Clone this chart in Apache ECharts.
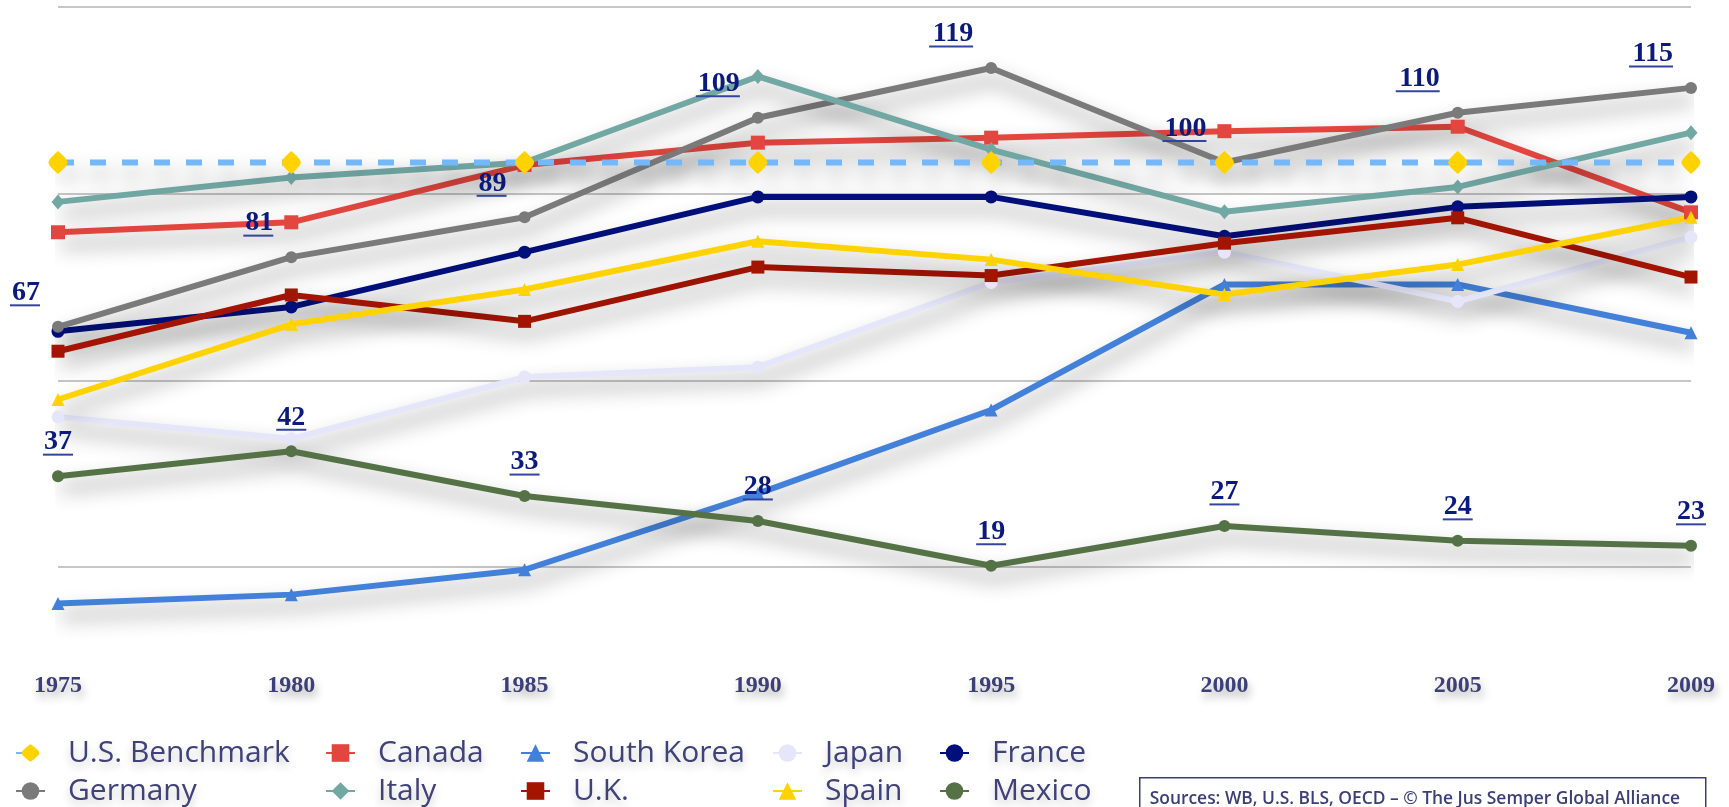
<!DOCTYPE html>
<html><head><meta charset="utf-8">
<script src="https://cdn.jsdelivr.net/npm/echarts@6/dist/echarts.min.js"></script>
<style>html,body{margin:0;padding:0;background:#fff}#c{width:1729px;height:807px}</style>
</head><body><div id="c"></div>
<script>
const years = ['1975','1980','1985','1990','1995','2000','2005','2009'];
const usBenchmark = [100, 100, 100, 100, 100, 100, 100, 100];
const canada     = [86, 88, 99.5, 104, 105, 106.3, 107.2, 90];
const southKorea = [11.4, 13.2, 18.2, 33.5, 50.3, 75.5, 75.5, 65.8];
const japan      = [48.9, 44.5, 56.9, 58.9, 75.9, 82, 72.1, 85];
const france     = [66.1, 71, 82, 93.1, 93.1, 85.2, 91.1, 93.1];
const germany    = [67, 81, 89, 109, 119, 100, 110, 115];
const italy      = [92.1, 97, 100, 117.3, 102.6, 90.1, 95.1, 106];
const uk         = [62.1, 73.4, 68.1, 79, 77.3, 83.8, 88.9, 77];
const spain      = [52.4, 67.5, 74.5, 84.2, 80.5, 73.5, 79.5, 89];
const mexico     = [37, 42, 33, 28, 19, 27, 24, 23];
const sourceText = 'Sources: WB, U.S. BLS, OECD \u2013 \u00A9 The Jus Semper Global Alliance';

const shadow = {shadowColor:'rgba(0,0,0,0.45)', shadowBlur:20, shadowOffsetY:12, shadowOffsetX:3};
const labelRich = {
  t:{fontFamily:'Liberation Serif', fontWeight:'bold', fontSize:28, color:'#0b1a7d', lineHeight:23},
  u2:{width:30, height:2, backgroundColor:'#3344a0'},
  u3:{width:44, height:2, backgroundColor:'#3344a0'}
};
function fmt(p){ const s = String(p.value); return '{t|'+s+'}\n{u'+s.length+'|}'; }
const lemon = 'path://M0,-12C4,-7 7,-3 7,0C7,3 4,7 0,12C-4,7 -7,3 -7,0C-7,-3 -4,-7 0,-12Z';

function mk(name, data, color, symbol, size, extra){
  return Object.assign({
    name, type:'line', data, clip:false,
    symbol, symbolSize:size, showSymbol:true,
    lineStyle:Object.assign({color, width:6}, shadow),
    itemStyle:{color},
    emphasis:{disabled:true}, animation:false
  }, extra||{});
}

const series = [
  mk('Canada', canada, '#e2463f', 'rect', [14,14]),
  mk('South Korea', southKorea, '#4280d9', 'triangle', [13,13]),
  mk('Japan', japan, '#e6e6fa', 'circle', 13),
  mk('France', france, '#00107a', 'circle', 13),
  mk('Germany', germany, '#7a7a7a', 'circle', 12, {
    label:{show:true, position:'inside', align:'right', verticalAlign:'middle', offset:[-18,-33], formatter:fmt, rich:labelRich}
  }),
  mk('Italy', italy, '#72a8a4', 'diamond', [13,15]),
  mk('U.K.', uk, '#a31500', 'rect', [13,13]),
  mk('Spain', spain, '#ffd200', 'triangle', [13,13]),
  mk('Mexico', mexico, '#557246', 'circle', 12, {
    label:{show:true, position:'inside', align:'center', verticalAlign:'middle', offset:[0,-33], formatter:fmt, rich:labelRich}
  }),
  mk('U.S. Benchmark', usBenchmark, '#74b8fc', lemon, [19,23], {
    z:5,
    lineStyle:Object.assign({color:'#74b8fc', width:6, type:[16,16]}, shadow),
    itemStyle:{color:'#ffd200'}
  })
];

const legendGrid = [
  ['U.S. Benchmark','Canada','South Korea','Japan','France'],
  ['Germany','Italy','U.K.','Spain','Mexico']
];
const legendLeft = [15, 325, 520, 772, 939];
const legendTop = [737, 775];
const legends = [];
legendGrid.forEach((row,r)=>row.forEach((name,c)=>{
  legends.push({
    data:[name], orient:'horizontal', left:legendLeft[c], top:legendTop[r], padding:0,
    itemWidth:29, itemHeight:22, selectedMode:false,
    textStyle:{fontFamily:'Open Sans', fontWeight:400, fontSize:30, color:'#3f4179', lineHeight:32, padding:[0,0,0,18],
      textShadowColor:'rgba(0,0,0,0.22)', textShadowBlur:8, textShadowOffsetY:5}
  });
}));

const chart = echarts.init(document.getElementById('c'));
chart.setOption({
  backgroundColor:'#ffffff',
  animation:false,
  grid:{left:58, right:38, top:7, bottom:240},
  xAxis:{type:'category', data:years, boundaryGap:false,
    axisLine:{show:false}, axisTick:{show:false},
    axisLabel:{margin:107, fontFamily:'Liberation Serif', fontWeight:'bold', fontSize:24, lineHeight:24, color:'#3d3f78',
      textShadowColor:'rgba(0,0,0,0.3)', textShadowBlur:8, textShadowOffsetY:6, textShadowOffsetX:2}},
  yAxis:{type:'value', min:18.75, max:131.25, interval:37.5,
    axisLabel:{show:false}, axisLine:{show:false}, axisTick:{show:false},
    splitLine:{lineStyle:{color:'#b4b4b4', width:1.5}}},
  legend:legends,
  series:series,
  graphic:[{type:'group', left:1139, top:777, children:[
    {type:'rect', shape:{x:0,y:0,width:566,height:40}, style:{fill:'#fff', stroke:'#3b3e78', lineWidth:1.5}},
    {type:'text', x:10, y:21, style:{text:sourceText, fontFamily:'Open Sans', fontWeight:600, fontSize:17.4, fill:'#3b3e78', verticalAlign:'middle'}}
  ]}]
});
</script></body></html>
